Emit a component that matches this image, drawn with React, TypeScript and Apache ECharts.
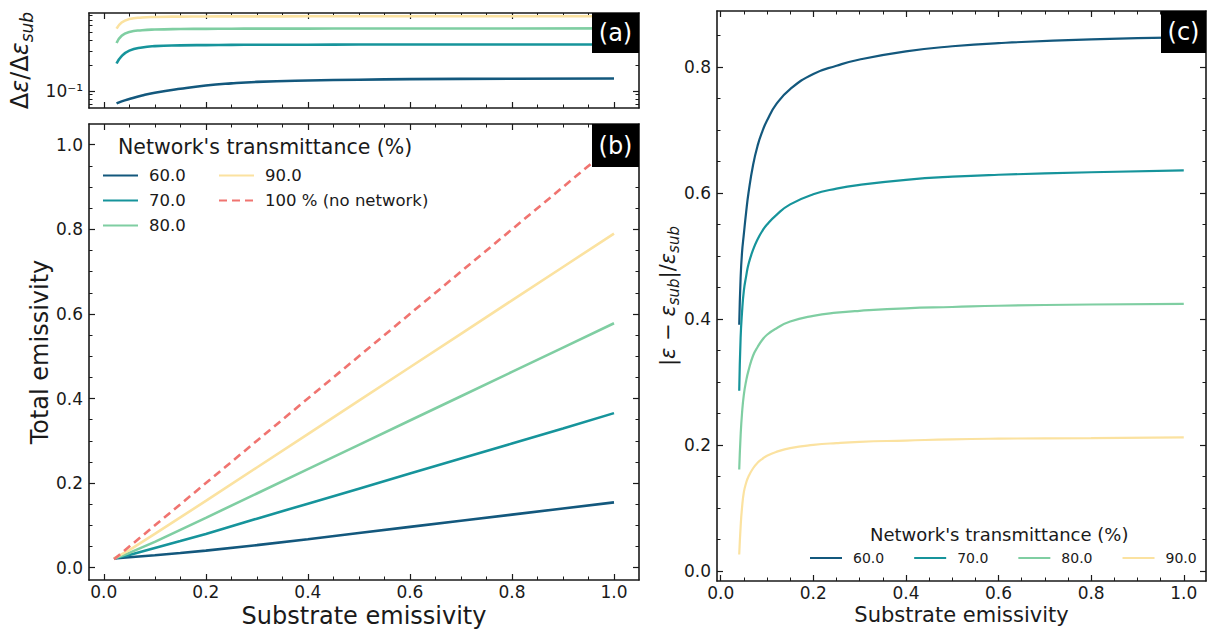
import React, { useEffect, useRef } from 'react';
import * as echarts from 'echarts';

const FONT = 'DejaVu Sans';
const INK = '#1a1a1a';

const NAMES = ['60.0', '70.0', '80.0', '90.0'];
const NO_NET = '100 % (no network)';
const COLORS = ['#13587d', '#16949b', '#7fcea2', '#fbe2a0'];
const RED = '#f07470';
const LEGEND_TITLE = "Network's transmittance (%)";

// ---- panel (a): dε/dε_sub (log axis)
const A_X = [0.025, 0.035, 0.05, 0.075, 0.1, 0.15, 0.2, 0.25, 0.3, 0.4, 0.5, 0.6, 0.8, 1.0];
const A_60 = [0.071, 0.075, 0.08, 0.088, 0.095, 0.106, 0.116, 0.123, 0.128, 0.133, 0.136, 0.138, 0.1395, 0.1405];
const A_70 = [0.212, 0.26, 0.302, 0.33, 0.342, 0.349, 0.352, 0.354, 0.355, 0.356, 0.357, 0.357, 0.358, 0.358];
const A_80 = [0.373, 0.455, 0.505, 0.53, 0.54, 0.547, 0.55, 0.552, 0.553, 0.554, 0.555, 0.556, 0.556, 0.557];
const A_90 = [0.553, 0.655, 0.72, 0.752, 0.763, 0.77, 0.773, 0.774, 0.775, 0.776, 0.777, 0.777, 0.778, 0.778];

// ---- panel (b): total emissivity
const B_X = [0.02, 0.05, 0.1, 0.15, 0.2, 0.3, 0.4, 0.5, 0.6, 0.7, 0.8, 0.9, 1.0];
const B_60 = [0.022, 0.0248, 0.0295, 0.0348, 0.0405, 0.0535, 0.0675, 0.082, 0.0965, 0.111, 0.1255, 0.14, 0.1545];
const B_70 = [0.022, 0.03, 0.0465, 0.063, 0.08, 0.116, 0.1515, 0.187, 0.2225, 0.258, 0.2935, 0.329, 0.3655];
const B_80 = [0.022, 0.035, 0.061, 0.0895, 0.118, 0.1755, 0.233, 0.2905, 0.348, 0.4055, 0.463, 0.5205, 0.578];
const B_90 = [0.022, 0.0415, 0.08, 0.119, 0.158, 0.237, 0.316, 0.395, 0.474, 0.553, 0.632, 0.711, 0.79];
const B_NONET_X = [0.02, 1.0];
const B_NONET_Y = [0.02, 1.0];

// ---- panel (c): |ε − ε_sub| / ε_sub
const C_X = [0.04, 0.043, 0.046, 0.05, 0.055, 0.06, 0.07, 0.08, 0.09, 0.1, 0.12, 0.15, 0.2, 0.25, 0.3, 0.4, 0.5, 0.6, 0.8, 1.0];
const C_60 = [0.391, 0.465, 0.505, 0.535, 0.57, 0.6, 0.645, 0.676, 0.698, 0.715, 0.741, 0.765, 0.789, 0.802, 0.812, 0.825, 0.833, 0.838, 0.844, 0.847];
const C_70 = [0.286, 0.37, 0.41, 0.445, 0.468, 0.487, 0.51, 0.527, 0.54, 0.55, 0.565, 0.582, 0.598, 0.607, 0.613, 0.621, 0.626, 0.629, 0.633, 0.636];
const C_80 = [0.161, 0.215, 0.25, 0.28, 0.302, 0.318, 0.342, 0.356, 0.367, 0.375, 0.385, 0.396, 0.405, 0.41, 0.413, 0.417, 0.419, 0.421, 0.423, 0.424];
const C_90 = [0.026, 0.07, 0.1, 0.125, 0.14, 0.15, 0.163, 0.172, 0.178, 0.183, 0.189, 0.195, 0.2, 0.203, 0.205, 0.207, 0.209, 0.21, 0.211, 0.212];

// ---- ticks
const X_TICKS = [0, 0.2, 0.4, 0.6, 0.8, 1.0];
const B_Y_TICKS = [0, 0.2, 0.4, 0.6, 0.8, 1.0];
const C_Y_TICKS = [0, 0.2, 0.4, 0.6, 0.8];
const A_Y_TICKS = [0.1];
const A_Y_MINOR = [0.07, 0.08, 0.09, 0.2, 0.3, 0.4, 0.5, 0.6, 0.7, 0.8];

const AB_X_RANGE = [-0.029, 1.049];
const A_Y_RANGE = [0.0625, 0.85];
const B_Y_RANGE = [-0.029, 1.049];
const C_X_RANGE = [-0.008, 1.048];
const C_Y_RANGE = [-0.016, 0.889];

function minorsOf(step: number, majors: number[], range: number[]) {
  const out: number[] = [];
  for (let k = Math.ceil(range[0] / step); k * step <= range[1] + 1e-9; k++) {
    const v = +(k * step).toFixed(4);
    if (!majors.some((m) => Math.abs(m - v) < 1e-9)) out.push(v);
  }
  return out;
}

const mathRich = (size: number) => ({
  u: { fontSize: size, fontFamily: FONT, color: INK, lineHeight: size + 6 },
  i: { fontSize: size, fontFamily: FONT, fontStyle: 'italic', color: INK, lineHeight: size + 6 },
  s: {
    fontSize: Math.round(size * 0.7),
    fontFamily: FONT,
    fontStyle: 'italic',
    color: INK,
    lineHeight: Math.round(size * 0.7),
    verticalAlign: 'bottom',
  },
});

type AxisOpts = {
  dim: 'x' | 'y';
  grid: number;
  range: number[];
  majors: number[];
  minors: number[];
  log?: boolean;
  labels?: number[] | null;
  fmt?: (v: number) => string;
  name?: string;
  nameGap?: number;
  nameSize?: number;
};

function buildAxes(o: AxisOpts) {
  const first = o.dim === 'x' ? 'bottom' : 'left';
  const second = o.dim === 'x' ? 'top' : 'right';
  const base: any = {
    gridIndex: o.grid,
    type: o.log ? 'log' : 'value',
    min: o.range[0],
    max: o.range[1],
    splitLine: { show: false },
    minorTick: { show: false },
    minorSplitLine: { show: false },
    silent: true,
    axisPointer: { show: false },
  };
  if (o.log) base.logBase = 10;
  const frame = { show: true, onZero: false, lineStyle: { color: INK, width: 1.6 } };
  const hidden = { show: false, onZero: false };
  const majorTick = { show: true, inside: true, length: 6, customValues: o.majors, lineStyle: { color: INK, width: 1.2 } };
  const minorTick = { show: true, inside: true, length: 3.5, customValues: o.minors, lineStyle: { color: INK, width: 1 } };
  const main: any = {
    ...base,
    position: first,
    axisLine: frame,
    axisTick: majorTick,
    axisLabel: o.labels
      ? {
          show: true, customValues: o.labels, formatter: o.fmt, fontSize: 17, fontFamily: FONT, color: INK,
          margin: o.dim === 'x' ? 3 : 6, lineHeight: 17,
        }
      : { show: false },
  };
  if (o.name) {
    const size = o.nameSize || 22;
    main.name = o.name;
    main.nameLocation = 'middle';
    main.nameGap = o.nameGap;
    main.nameMoveOverlap = false;
    main.nameTextStyle = {
      fontSize: size, fontFamily: FONT, color: INK,
      lineHeight: o.dim === 'x' ? size : size + 6,
      rich: mathRich(size),
    };
    if (o.dim === 'y') main.nameRotate = 90;
  }
  return [
    main,
    { ...base, position: second, axisLine: frame, axisTick: majorTick, axisLabel: { show: false } },
    { ...base, position: first, axisLine: hidden, axisTick: minorTick, axisLabel: { show: false } },
    { ...base, position: second, axisLine: hidden, axisTick: minorTick, axisLabel: { show: false } },
  ];
}

const fmt1 = (v: number) => v.toFixed(1);

function lineSeries(name: string, xs: number[], ys: number[], color: string, grid: number, width: number, smooth: number | boolean, dashed = false) {
  return {
    type: 'line',
    name,
    xAxisIndex: grid * 4,
    yAxisIndex: grid * 4,
    data: xs.map((x, i) => [x, ys[i]]),
    symbol: 'none',
    showSymbol: false,
    smooth,
    silent: true,
    emphasis: { disabled: true },
    lineStyle: { color, width, type: dashed ? [8, 5] : 'solid' },
    itemStyle: { color },
    z: 3,
  };
}

function tagBox(label: string, x: number, y: number, w: number, h: number) {
  return {
    type: 'group',
    z: 100,
    children: [
      { type: 'rect', shape: { x, y, width: w, height: h }, style: { fill: '#000' }, z: 100 },
      {
        type: 'text',
        x: x + w / 2,
        y: y + h / 2,
        z: 101,
        style: { text: label, fill: '#fff', fontSize: 24, fontFamily: FONT, align: 'center', verticalAlign: 'middle' },
      },
    ],
  };
}

export default function App() {
  const ref = useRef<HTMLDivElement>(null);

  useEffect(() => {
    document.body.style.margin = '0';
    if (!ref.current) return;
    const chart = echarts.init(ref.current, null, { renderer: 'svg' });

    const xA = buildAxes({ dim: 'x', grid: 0, range: AB_X_RANGE, majors: X_TICKS, minors: minorsOf(0.05, X_TICKS, AB_X_RANGE), labels: null });
    const xB = buildAxes({
      dim: 'x', grid: 1, range: AB_X_RANGE, majors: X_TICKS, minors: minorsOf(0.05, X_TICKS, AB_X_RANGE),
      labels: X_TICKS, fmt: fmt1, name: 'Substrate emissivity', nameGap: 24, nameSize: 24,
    });
    const xC = buildAxes({
      dim: 'x', grid: 2, range: C_X_RANGE, majors: X_TICKS, minors: minorsOf(0.05, X_TICKS, C_X_RANGE),
      labels: X_TICKS, fmt: fmt1, name: 'Substrate emissivity', nameGap: 23.5, nameSize: 21,
    });
    const yA = buildAxes({
      dim: 'y', grid: 0, range: A_Y_RANGE, majors: A_Y_TICKS, minors: A_Y_MINOR, log: true,
      labels: A_Y_TICKS, fmt: () => '10⁻¹',
      name: '{u|Δ}{i|ε}{u|/Δ}{i|ε}{s|sub}', nameGap: 54, nameSize: 24,
    });
    const yB = buildAxes({
      dim: 'y', grid: 1, range: B_Y_RANGE, majors: B_Y_TICKS, minors: minorsOf(0.05, B_Y_TICKS, B_Y_RANGE),
      labels: B_Y_TICKS, fmt: fmt1, name: 'Total emissivity', nameGap: 34, nameSize: 24,
    });
    const yC = buildAxes({
      dim: 'y', grid: 2, range: C_Y_RANGE, majors: C_Y_TICKS, minors: minorsOf(0.05, C_Y_TICKS, C_Y_RANGE),
      labels: C_Y_TICKS, fmt: fmt1,
      name: '{u||}{i|ε}{u| − }{i|ε}{s|sub}{u||/}{i|ε}{s|sub}', nameGap: 36, nameSize: 21,
    });

    const A_SETS = [A_60, A_70, A_80, A_90];
    const B_SETS = [B_60, B_70, B_80, B_90];
    const C_SETS = [C_60, C_70, C_80, C_90];

    const series: any[] = [];
    NAMES.forEach((n, i) => series.push(lineSeries(n, B_X, B_SETS[i], COLORS[i], 1, 2.6, false)));
    series.push(lineSeries(NO_NET, B_NONET_X, B_NONET_Y, RED, 1, 2.6, false, true));
    NAMES.forEach((n, i) => series.push(lineSeries(n, A_X, A_SETS[i], COLORS[i], 0, 2.6, 0.5)));
    NAMES.forEach((n, i) => series.push(lineSeries(n, C_X, C_SETS[i], COLORS[i], 2, 2.2, 0.5)));

    const legendText = (size: number) => ({ fontSize: size, fontFamily: FONT, color: INK, lineHeight: size, padding: [0, 0, 0, 6] });
    const legendBase = { padding: 0, selectedMode: false, itemStyle: { opacity: 0 } };

    const option: any = {
      animation: false,
      backgroundColor: '#ffffff',
      textStyle: { fontFamily: FONT },
      grid: [
        { left: 89, top: 13, width: 550, height: 95, outerBoundsMode: 'none' },
        { left: 89, top: 124, width: 550, height: 456, outerBoundsMode: 'none' },
        { left: 717, top: 11, width: 489, height: 570, outerBoundsMode: 'none' },
      ],
      xAxis: [...xA, ...xB, ...xC],
      yAxis: [...yA, ...yB, ...yC],
      title: [
        { text: LEGEND_TITLE, left: 118, top: 136, padding: 0, textStyle: { fontSize: 20.5, fontWeight: 'normal', color: INK, fontFamily: FONT } },
        { text: LEGEND_TITLE, left: 870, top: 525, padding: 0, textStyle: { fontSize: 18, fontWeight: 'normal', color: INK, fontFamily: FONT } },
      ],
      legend: [
        {
          ...legendBase, data: NAMES.slice(0, 3), orient: 'vertical', left: 102, top: 167,
          itemWidth: 35, itemHeight: 14, itemGap: 8, textStyle: legendText(16.5),
        },
        {
          ...legendBase, data: [NAMES[3], NO_NET], orient: 'vertical', left: 218, top: 167,
          itemWidth: 35, itemHeight: 14, itemGap: 8, textStyle: legendText(16.5),
        },
        {
          ...legendBase, data: NAMES, orient: 'horizontal', left: 809, top: 551,
          itemWidth: 32, itemHeight: 14, itemGap: 29, textStyle: legendText(14),
        },
      ],
      series,
      graphic: [tagBox('(a)', 592, 13, 47, 40), tagBox('(b)', 592, 124, 47, 43), tagBox('(c)', 1161, 11, 45, 42)],
    };

    chart.setOption(option);
    return () => chart.dispose();
  }, []);

  return <div ref={ref} style={{ width: 1208, height: 632 }} />;
}
